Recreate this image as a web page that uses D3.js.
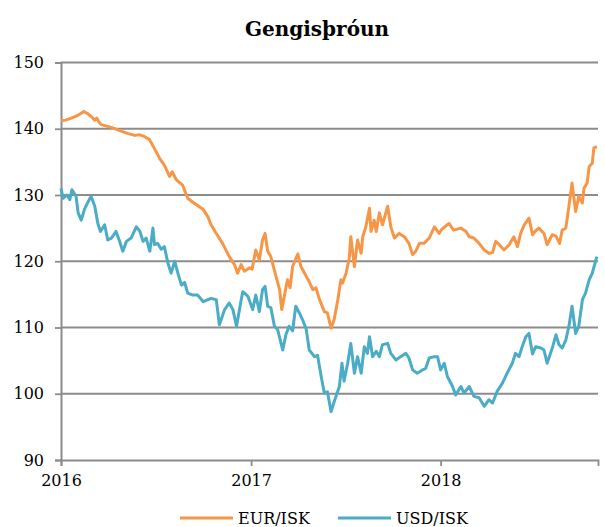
<!DOCTYPE html>
<html lang="is">
<head>
<meta charset="UTF-8">
<title>Gengisþróun</title>
<style>
  body { margin: 0; background: #fff; }
  text { font-family: "DejaVu Serif", serif; fill: #000; }
</style>
</head>
<body>
<div id="chart"></div>
<script src="https://d3js.org/d3.v7.min.js"></script>
<script>
const title = "Gengisþróun";
const seriesNames = ["EUR/ISK", "USD/ISK"];
const seriesColors = ["#F79646", "#4BACC6"];
const yTicks = [90, 100, 110, 120, 130, 140, 150];
const xTickDates = ["2016-01-01", "2017-01-01", "2018-01-01"];
const xDomain = ["2016-01-01", "2018-10-31"];

const eurDates = ["2016-01-01","2016-01-10","2016-01-21","2016-02-02","2016-02-14","2016-02-21","2016-02-29","2016-03-06","2016-03-10","2016-03-15","2016-03-19","2016-03-29","2016-04-07","2016-04-17","2016-04-27","2016-05-08","2016-05-22","2016-05-31","2016-06-10","2016-06-19","2016-06-29","2016-07-09","2016-07-18","2016-07-28","2016-08-02","2016-08-10","2016-08-22","2016-09-01","2016-09-11","2016-10-01","2016-10-10","2016-10-16","2016-10-26","2016-11-07","2016-11-20","2016-11-30","2016-12-06","2016-12-13","2016-12-19","2016-12-29",
  "2017-01-03","2017-01-10","2017-01-17","2017-01-23","2017-01-28","2017-02-02","2017-02-08","2017-02-18","2017-02-25","2017-03-01","2017-03-06","2017-03-12","2017-03-17","2017-03-22","2017-04-01","2017-04-07","2017-04-14","2017-04-23","2017-04-30","2017-05-06","2017-05-12","2017-05-22","2017-05-28","2017-06-04","2017-06-10","2017-06-17","2017-06-23","2017-06-26","2017-07-03","2017-07-09","2017-07-12","2017-07-19","2017-07-25","2017-08-01","2017-08-04","2017-08-10","2017-08-17","2017-08-20","2017-08-26","2017-08-30","2017-09-05","2017-09-11","2017-09-21","2017-09-27","2017-10-04","2017-10-13","2017-10-23","2017-11-01","2017-11-08","2017-11-14","2017-11-21","2017-11-30","2017-12-10","2017-12-20","2017-12-29",
  "2018-01-03","2018-01-17","2018-01-26","2018-02-09","2018-02-19","2018-02-25","2018-03-06","2018-03-16","2018-03-26","2018-04-04","2018-04-11","2018-04-17","2018-04-24","2018-05-03","2018-05-13","2018-05-22","2018-05-29","2018-06-04","2018-06-11","2018-06-20","2018-06-27","2018-07-02","2018-07-09","2018-07-19","2018-07-25","2018-08-04","2018-08-11","2018-08-18","2018-08-23","2018-08-30","2018-09-05","2018-09-11","2018-09-18","2018-09-24","2018-10-01","2018-10-04","2018-10-10","2018-10-14","2018-10-20","2018-10-23","2018-10-29"];
const eurValues = [141.2,141.3,141.6,142.0,142.6,142.3,141.8,141.3,141.6,140.9,140.6,140.4,140.2,139.9,139.6,139.3,139.0,139.1,138.8,138.4,137.0,135.5,134.5,132.8,133.5,132.3,131.5,129.5,128.9,127.8,126.7,125.5,124.2,122.7,120.7,119.5,118.2,119.5,118.5,119.0,
  118.8,121.7,120.2,123.2,124.2,121.5,120.7,117.7,115.7,112.7,114.7,117.2,116.0,119.2,121.1,119.2,118.2,116.9,115.7,116.0,114.4,112.4,112.2,109.9,111.2,114.2,117.2,116.7,118.2,120.5,123.7,119.2,123.2,121.2,123.7,125.2,128.0,124.5,126.2,124.5,127.3,125.5,128.3,125.2,123.5,124.2,123.7,122.7,121.0,121.5,122.7,122.7,123.5,125.2,124.2,
  124.8,125.7,124.7,125.0,124.5,123.7,123.5,122.7,121.7,121.2,121.3,123.0,122.5,121.7,122.5,123.7,122.2,124.2,125.5,126.5,124.0,124.5,125.0,124.2,122.5,124.0,123.8,122.7,124.7,125.0,128.3,131.8,127.5,129.8,128.8,131.0,131.8,134.3,134.8,137.1,137.3];

const usdDates = ["2016-01-01","2016-01-05","2016-01-12","2016-01-18","2016-01-22","2016-01-30","2016-02-03","2016-02-09","2016-02-15","2016-02-21","2016-02-28","2016-03-06","2016-03-12","2016-03-17","2016-03-25","2016-03-31","2016-04-07","2016-04-16","2016-04-22","2016-04-29","2016-05-06","2016-05-15","2016-05-25","2016-06-01","2016-06-07","2016-06-13","2016-06-20","2016-06-26","2016-06-29","2016-07-05","2016-07-12","2016-07-18","2016-07-25","2016-07-31","2016-08-07","2016-08-13","2016-08-20","2016-08-26","2016-09-01","2016-09-11","2016-09-20","2016-10-01","2016-10-10","2016-10-16","2016-10-26","2016-11-01","2016-11-11","2016-11-20","2016-11-27","2016-12-04","2016-12-13","2016-12-16","2016-12-26",
  "2017-01-04","2017-01-10","2017-01-17","2017-01-23","2017-01-28","2017-02-02","2017-02-08","2017-02-15","2017-02-21","2017-03-03","2017-03-09","2017-03-15","2017-03-22","2017-03-28","2017-04-04","2017-04-10","2017-04-17","2017-04-23","2017-05-03","2017-05-09","2017-05-16","2017-05-22","2017-05-28","2017-06-04","2017-06-10","2017-06-20","2017-06-25","2017-06-29","2017-07-06","2017-07-12","2017-07-19","2017-07-25","2017-08-01","2017-08-07","2017-08-13","2017-08-17","2017-08-23","2017-08-30","2017-09-05","2017-09-11","2017-09-21","2017-09-27","2017-10-07","2017-10-16","2017-10-26","2017-11-01","2017-11-08","2017-11-17","2017-11-27","2017-12-03","2017-12-10","2017-12-20","2017-12-26",
  "2018-01-01","2018-01-08","2018-01-14","2018-01-24","2018-01-30","2018-02-09","2018-02-15","2018-02-25","2018-03-06","2018-03-16","2018-03-26","2018-04-04","2018-04-11","2018-04-20","2018-04-30","2018-05-09","2018-05-19","2018-05-25","2018-06-01","2018-06-07","2018-06-14","2018-06-20","2018-06-27","2018-07-03","2018-07-13","2018-07-19","2018-07-25","2018-08-04","2018-08-11","2018-08-17","2018-08-23","2018-08-30","2018-09-05","2018-09-11","2018-09-18","2018-09-24","2018-10-01","2018-10-07","2018-10-14","2018-10-20","2018-10-27","2018-10-29"];
const usdValues = [131.0,129.5,130.0,129.3,130.8,129.8,127.3,126.2,127.8,128.8,129.8,128.3,125.7,124.5,125.5,123.2,123.5,124.5,123.2,121.5,123.0,123.5,125.2,124.5,123.0,123.5,121.5,125.0,122.5,122.7,121.8,122.2,119.7,118.2,120.0,118.2,116.4,116.8,115.2,114.9,114.9,113.9,114.2,114.4,114.2,110.4,112.7,113.7,112.7,110.2,114.2,115.4,114.7,
  112.7,114.9,112.4,115.7,116.2,113.2,113.0,110.2,109.7,106.6,108.9,110.2,109.5,113.2,112.2,111.2,109.8,106.6,105.6,105.8,102.6,100.1,100.3,97.3,98.8,101.1,104.6,101.9,104.6,107.6,103.1,105.6,103.1,107.1,106.1,108.6,105.6,106.4,105.6,107.4,107.6,106.1,105.1,105.6,106.1,105.4,103.6,103.1,103.6,103.8,105.4,105.6,105.6,
  103.6,104.6,102.6,101.1,99.8,101.1,100.1,101.1,99.6,99.4,98.1,99.1,98.6,100.4,101.6,103.1,104.6,106.1,105.6,107.1,108.6,109.1,106.0,107.1,106.9,106.6,104.6,106.9,108.9,107.4,106.9,108.1,110.2,113.2,109.1,110.2,114.2,115.2,117.2,118.2,120.2,120.7];

const W = 605, H = 527;
const plot = { left: 61, right: 598, top: 62.5, bottom: 460 };
const parse = d3.timeParse("%Y-%m-%d");

const x = d3.scaleTime()
  .domain(xDomain.map(parse))
  .range([plot.left, plot.right]);
const y = d3.scaleLinear()
  .domain([90, 150])
  .range([plot.bottom, plot.top]);

const svg = d3.select("#chart").append("svg")
  .attr("width", W)
  .attr("height", H);

// horizontal gridlines
svg.append("g")
  .selectAll("line")
  .data(yTicks.filter(d => d > 90))
  .join("line")
  .attr("x1", plot.left)
  .attr("x2", plot.right)
  .attr("y1", d => y(d))
  .attr("y2", d => y(d))
  .attr("stroke", "#8c8c8c")
  .attr("stroke-width", 1.8);

// y axis
const yAxis = svg.append("g")
  .attr("transform", `translate(${plot.left},0)`)
  .call(d3.axisLeft(y).tickValues(yTicks).tickSize(6).tickPadding(11).tickFormat(d3.format("d")));
yAxis.select(".domain").attr("stroke", "#8c8c8c").attr("stroke-width", 2);
yAxis.selectAll(".tick line").attr("stroke", "#8c8c8c").attr("stroke-width", 1.8);
yAxis.selectAll(".tick text").style("font-size", "16px").attr("font-family", null);

// x axis
const xAxis = svg.append("g")
  .attr("transform", `translate(0,${plot.bottom})`)
  .call(d3.axisBottom(x).tickValues(xTickDates.map(parse)).tickSize(6).tickPadding(9).tickFormat(d3.timeFormat("%Y")));
xAxis.select(".domain").attr("stroke", "#8c8c8c").attr("stroke-width", 1.8);
xAxis.selectAll(".tick line").attr("stroke", "#8c8c8c").attr("stroke-width", 1.8);
xAxis.selectAll(".tick text").style("font-size", "16px").attr("font-family", null);

// series lines
const series = [
  { name: seriesNames[0], color: seriesColors[0], dates: eurDates, values: eurValues },
  { name: seriesNames[1], color: seriesColors[1], dates: usdDates, values: usdValues }
];

const line = d3.line()
  .x(d => x(d.date))
  .y(d => y(d.value));

series.forEach(s => {
  const pts = s.dates.map((dt, i) => ({ date: parse(dt), value: s.values[i] }));
  svg.append("path")
    .datum(pts)
    .attr("fill", "none")
    .attr("stroke", s.color)
    .attr("stroke-width", 3)
    .attr("stroke-linejoin", "round")
    .attr("d", line);
});

// title
svg.append("text")
  .attr("x", 317)
  .attr("y", 36)
  .attr("text-anchor", "middle")
  .style("font-size", "20px")
  .style("font-weight", "bold")
  .text(title);

// legend
const legendX = [180, 338];
const legend = svg.append("g")
  .selectAll("g")
  .data(series)
  .join("g")
  .attr("transform", (d, i) => `translate(${legendX[i]},518)`);
legend.append("line")
  .attr("x1", 0)
  .attr("x2", 53)
  .attr("stroke", d => d.color)
  .attr("stroke-width", 3);
legend.append("text")
  .attr("x", 58)
  .attr("dy", "0.35em")
  .style("font-size", "16px")
  .text(d => d.name);
</script>
</body>
</html>
